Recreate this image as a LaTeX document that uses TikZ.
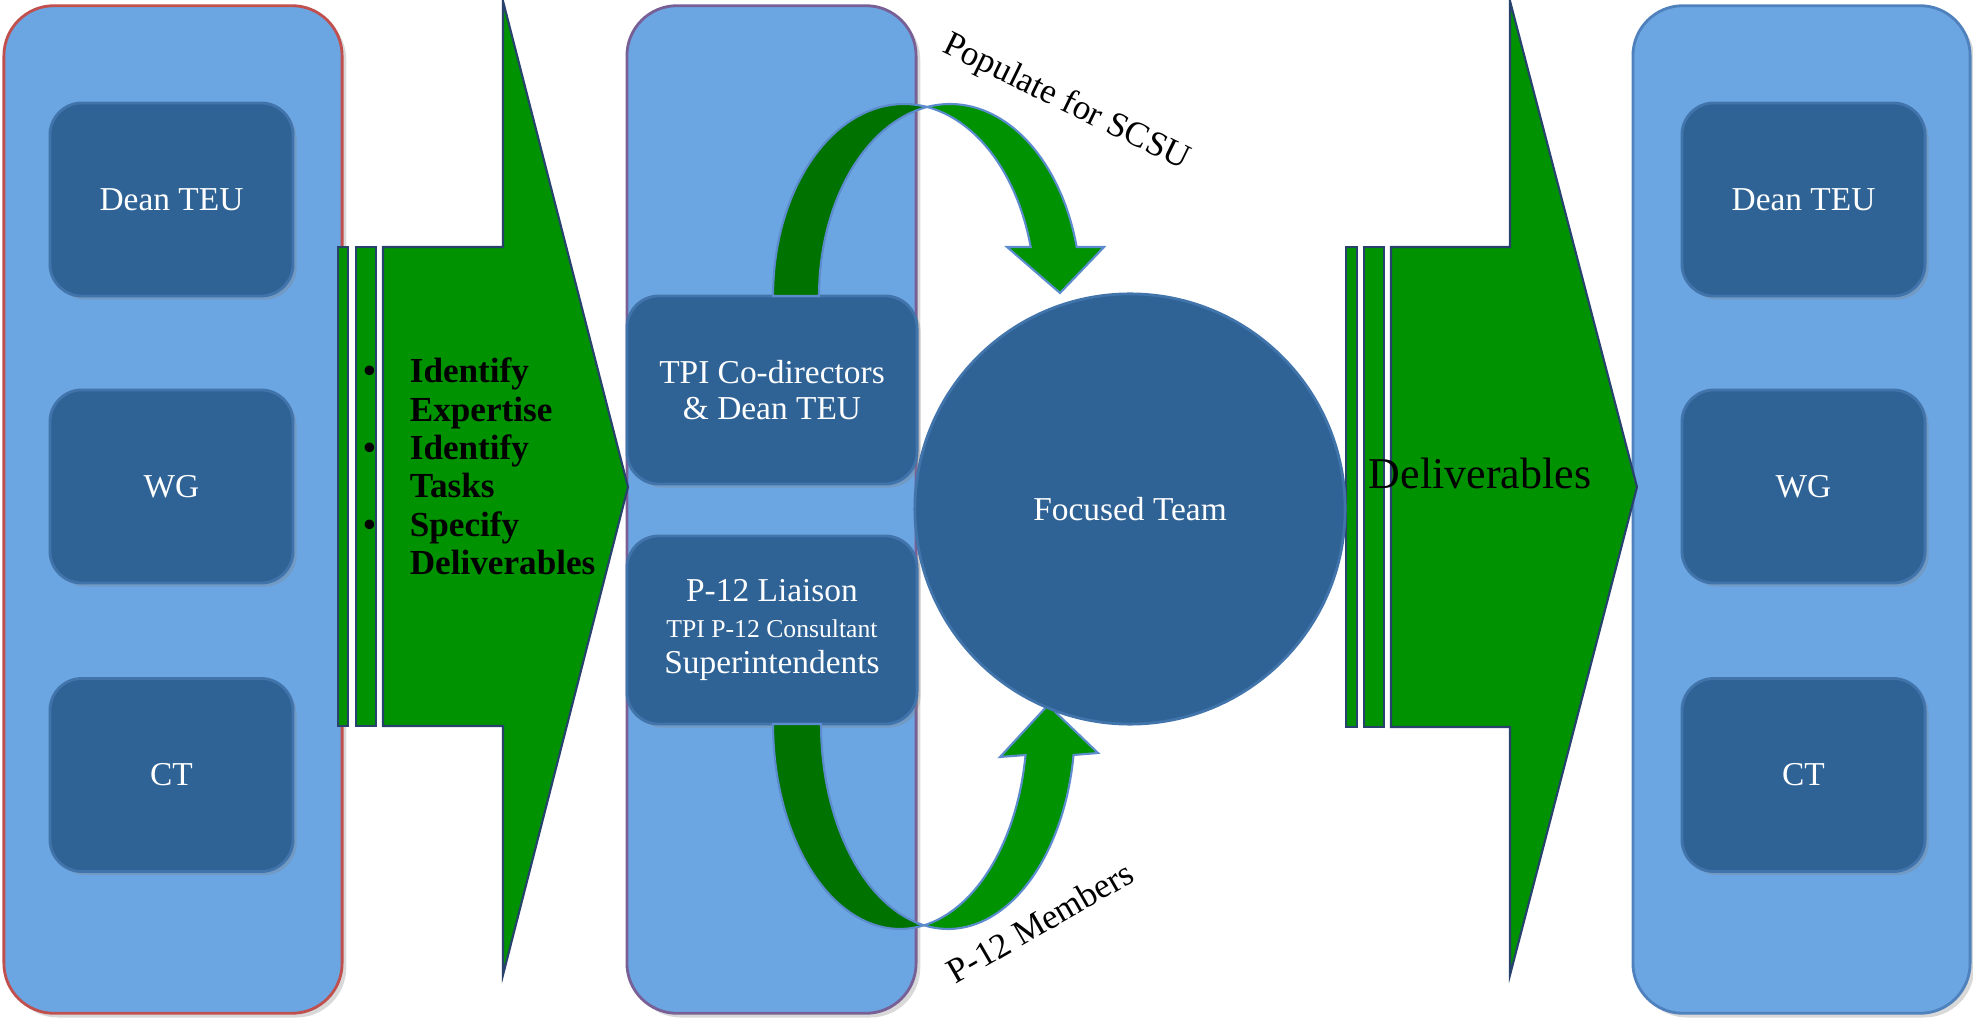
\documentclass[tikz,border=0pt]{standalone}
\usepackage{fontspec}
\setmainfont{Liberation Serif}
\usetikzlibrary{shadows}

\definecolor{columnblue}{RGB}{107,166,226}
\definecolor{boxblue}{RGB}{47,99,150}
\definecolor{boxline}{RGB}{66,116,172}
\definecolor{leftline}{RGB}{192,80,77}
\definecolor{midline}{RGB}{120,96,150}
\definecolor{rightline}{RGB}{79,129,189}
\definecolor{arrowgreen}{RGB}{0,146,0}
\definecolor{backgreen}{RGB}{0,114,0}
\definecolor{arrowline}{RGB}{40,66,110}
\definecolor{ribbonline}{RGB}{92,140,205}

\begin{document}
\begin{tikzpicture}[x=0.01cm,y=-0.01cm,thick]
    \tikzstyle{column}=[rectangle,rounded corners=0.5cm,fill=columnblue,line width=0.8pt,minimum height=10.07cm,inner sep=0pt,drop shadow={opacity=0.3,shadow xshift=1.2pt,shadow yshift=-1.2pt}]
    \tikzstyle{member}=[rectangle,rounded corners=0.32cm,draw=boxline,fill=boxblue,text=white,minimum width=2.43cm,minimum height=1.93cm,align=center,font=\fontsize{9.5}{10.3}\selectfont,drop shadow={opacity=0.3,shadow xshift=1pt,shadow yshift=-1pt}]
    \tikzstyle{liaison}=[member,minimum width=2.9cm,minimum height=1.88cm]
    \tikzstyle{bararrow}=[fill=arrowgreen,draw=arrowline,line width=0.6pt,line join=miter]
    \tikzstyle{ribbon}=[draw=ribbonline,line width=0.6pt]
    \tikzstyle{tag}=[font=\fontsize{10}{12}\selectfont,inner sep=0pt]

    \useasboundingbox (0,0) rectangle (1973,1019);

    % Columns
    \node[column,draw=leftline,minimum width=3.38cm] (left) at (173,509.5) {};
    \node[column,draw=midline,minimum width=2.89cm] (mid) at (771.5,509.5) {};
    \node[column,draw=rightline,minimum width=3.37cm] (right) at (1801.5,509.5) {};

    % Boxes
    \node[member] (ldean) at (171.5,199.5) {Dean TEU};
    \node[member] (lwg) at (171.5,486.5) {WG};
    \node[member] (lct) at (171.5,775) {CT};
    \node[member] (rdean) at (1803.5,199.5) {Dean TEU};
    \node[member] (rwg) at (1803.5,486.5) {WG};
    \node[member] (rct) at (1803.5,775) {CT};
    \node[liaison] (tpi) at (772,390) {TPI Co-directors\\\& Dean TEU};
    \node[liaison] (p12) at (772,630) {P-12 Liaison\\{\fontsize{7.3}{8.8}\selectfont TPI P-12 Consultant}\\Superintendents};

    % Block arrows
    \draw[bararrow] (338,247) rectangle (348,726);
    \draw[bararrow] (356,247) rectangle (376,726);
    \draw[bararrow] (383,247) -- (503,247) -- (503,1) -- (628,487) -- (503,975) -- (503,726) -- (383,726) -- cycle;
    \draw[bararrow] (1346,247) rectangle (1357,727);
    \draw[bararrow] (1364,247) rectangle (1384,727);
    \draw[bararrow] (1391,247) -- (1510,247) -- (1510,1) -- (1637,487) -- (1510,975) -- (1510,727) -- (1391,727) -- cycle;

    \node[anchor=base west,inner sep=0pt,font=\bfseries\fontsize{10}{10.9}\selectfont] (tasks) at (362,383)
        {\begin{tabular}[t]{@{}l@{\hspace{9.7pt}}l@{}}
            \textbullet & Identify\\ & Expertise\\
            \textbullet & Identify\\ & Tasks\\
            \textbullet & Specify\\ & Deliverables
        \end{tabular}};
    \node[anchor=base,inner sep=0pt,font=\fontsize{12.5}{15}\selectfont] (deliv) at (1480,489) {Deliverables};

    % Curved arrows
    \fill[backgreen,ribbon] plot[domain=180:79.89,samples=40] ({904+131*cos(\x)},{296-192*sin(\x)})
        -- plot[domain=100.11:180,samples=40] ({950+131*cos(\x)},{296-192*sin(\x)}) -- cycle;
    \fill[arrowgreen,ribbon] plot[domain=100.11:14.79,samples=40] ({950+131*cos(\x)},{296-192*sin(\x)})
        -- (1104,247) -- (1060,293) -- (1007,247)
        -- plot[domain=14.79:79.89,samples=40] ({904+131*cos(\x)},{296-192*sin(\x)}) -- cycle;
    \fill[backgreen,ribbon] plot[domain=180:79.1,samples=40] ({900+127*cos(\x)},{724+205*sin(\x)})
        -- plot[domain=100.9:180,samples=40] ({948+127*cos(\x)},{724+205*sin(\x)}) -- cycle;
    \fill[arrowgreen,ribbon] plot[domain=100.9:8.7,samples=40] ({948+127*cos(\x)},{724+205*sin(\x)})
        -- (1098,753) -- (1048,705) -- (1000,757)
        -- plot[domain=8.7:79.1,samples=40] ({900+127*cos(\x)},{724+205*sin(\x)}) -- cycle;

    % Team
    \node[circle,draw=boxline,fill=boxblue,text=white,minimum size=4.3cm,font=\fontsize{9.5}{11}\selectfont] (team) at (1130,509) {Focused Team};

    \node[tag,rotate=-26] (scsu) at (1066,103) {Populate for SCSU};
    \node[tag,rotate=30] (members) at (1040,922) {P-12 Members};
\end{tikzpicture}
\end{document}
